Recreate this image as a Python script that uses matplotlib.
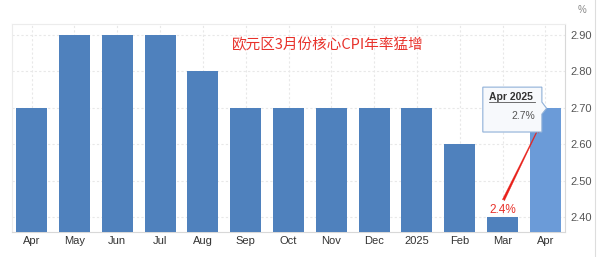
import matplotlib
matplotlib.use("Agg")
import matplotlib.pyplot as plt
from matplotlib.patches import Polygon
import matplotlib.lines as mlines

categories = ["Apr", "May", "Jun", "Jul", "Aug", "Sep", "Oct", "Nov", "Dec", "2025", "Feb", "Mar", "Apr"]
values = [2.7, 2.9, 2.9, 2.9, 2.8, 2.7, 2.7, 2.7, 2.7, 2.7, 2.6, 2.4, 2.7]
yticks = [2.4, 2.5, 2.6, 2.7, 2.8, 2.9]
title = "欧元区3月份核心CPI年率猛增"
tooltip_title = "Apr 2025"
tooltip_value = "2.7%"
mar_label = "2.4%"

plt.rcParams['font.family'] = ['Liberation Sans', 'DejaVu Sans']

fig = plt.figure(figsize=(6.01, 2.57), dpi=100)
ax = fig.add_axes([12/601, 25/257, 553/601, 208/257])

x = list(range(len(categories)))
colors = ["#4f81bd"] * (len(values) - 1) + ["#6b9bd8"]
ybase = 2.36
ax.bar(x, [v - ybase for v in values], bottom=ybase, width=0.72, color=colors, zorder=3)

ax.set_xlim(-0.46, len(categories) - 1 + 0.46)
ax.set_ylim(ybase, 2.93)
ax.set_xticks(x)
ax.set_xticklabels(categories, fontsize=8, color="#333333")
ax.set_yticks(yticks)
ax.set_yticklabels([f"{t:.2f}" for t in yticks], fontsize=8, color="#555555")
ax.yaxis.tick_right()
ax.tick_params(axis='both', length=0)
ax.tick_params(axis='y', pad=4)
ax.tick_params(axis='x', pad=3)
ax.grid(True, color="#e8e8e8", linestyle=(0, (2, 2)), linewidth=0.8, zorder=0)
for s in ["left", "top"]:
    ax.spines[s].set_color("#ececec")
    ax.spines[s].set_linewidth(0.8)
for s in ["right", "bottom"]:
    ax.spines[s].set_color("#d8d8d8")
    ax.spines[s].set_linewidth(0.8)

# title text
ax.text(0.572, 0.899, title, transform=ax.transAxes, ha="center", va="center",
        fontsize=10.5, color="#e8322b", family=["Noto Sans CJK SC", "DejaVu Sans"], zorder=5)

# label over Mar bar
ax.text(11, values[11] + 0.004, mar_label, ha="center", va="bottom", fontsize=8.5,
        color="#e8322b", zorder=5)

# red arrow
ax.annotate("", xy=(11.87, 2.651), xytext=(11.02, 2.447),
            arrowprops=dict(arrowstyle="fancy,head_length=0.5,head_width=0.35,tail_width=0.18",
                            color="#e8201a", lw=0.2, shrinkA=0, shrinkB=0), zorder=6)

# tooltip
xl, xr, yb, yt = 10.54, 11.92, 2.634, 2.757
poly = Polygon([(xl, yb), (xl, yt), (xr, yt), (xr, 2.716), (12.03, 2.699), (xr, 2.683), (xr, yb)],
               closed=True, facecolor="#f7f9fc", edgecolor="#8fb0d8", linewidth=0.8, zorder=7)
ax.add_patch(poly)
ax.text(xl + 0.14, 2.731, tooltip_title, fontsize=7.5, fontweight="bold", color="#333333",
        ha="left", va="center", zorder=8)
ax.plot([xl + 0.14, xr - 0.16], [2.717, 2.717], color="#555555", lw=0.6, zorder=8)
ax.text(xr - 0.16, 2.679, tooltip_value, fontsize=7.5, color="#555555",
        ha="right", va="center", zorder=8)

fig.text(582/601, 1 - 10/257, "%", fontsize=7, color="#888888", ha="center", va="center")
fig.add_artist(mlines.Line2D([595/601, 595/601], [0, 1], color="#dddddd", lw=0.8))

fig.savefig("out.png", dpi=100)
